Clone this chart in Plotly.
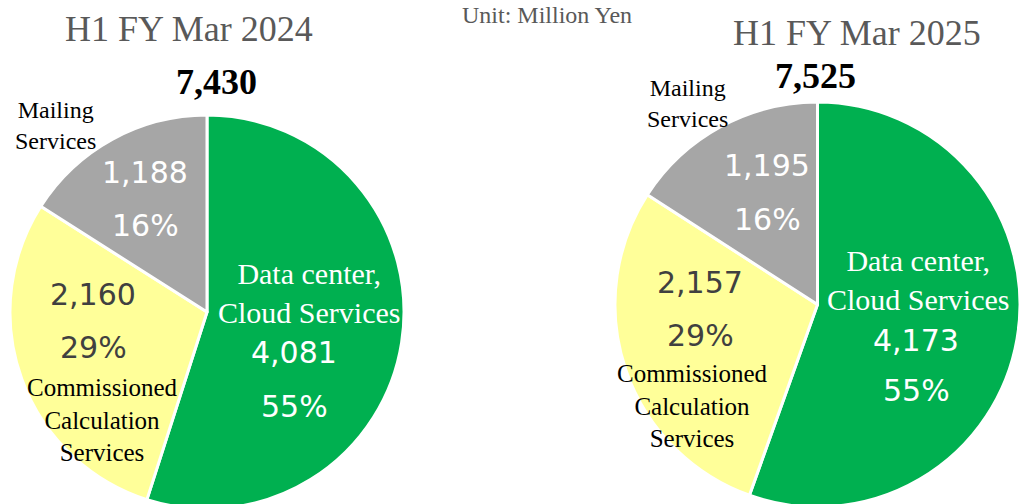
import plotly.graph_objects as go

# ---- data ----
categories = ["Data center,<br>Cloud Services", "Commissioned<br>Calculation<br>Services", "Mailing<br>Services"]
periods = ["H1 FY Mar 2024", "H1 FY Mar 2025"]
values_2024 = [4081, 2160, 1188]
values_2025 = [4173, 2157, 1195]
totals = [7430, 7525]
unit_label = "Unit: Million Yen"

colors = ["#00B050", "#FFFF99", "#A6A6A6"]
value_font_colors = ["white", "#404040", "white"]

W, H = 1023, 510

def px_dom(x0, x1, y0, y1):
    return dict(x=[x0 / W, x1 / W], y=[1 - y1 / H, 1 - y0 / H])

domains = [px_dom(10, 404, 115, 509), px_dom(615, 1020, 102, 507)]

fig = go.Figure()
for vals, dom in zip([values_2024, values_2025], domains):
    fig.add_trace(go.Pie(
        labels=[c.replace("<br>", " ") for c in categories],
        values=vals,
        sort=False,
        direction="clockwise",
        rotation=0,
        marker=dict(colors=colors, line=dict(color="white", width=3)),
        textinfo="none",
        showlegend=False,
        domain=dom,
    ))

def ax(px):
    return px / W

def ay(py):
    return 1 - py / H

ann = []
def add(text, x, y, size, color, family="Liberation Serif, Times New Roman, serif", bold=False):
    if bold:
        text = "<b>" + text + "</b>"
    ann.append(dict(text=text, x=ax(x), y=ay(y), xref="paper", yref="paper",
                    xanchor="center", yanchor="middle", showarrow=False,
                    font=dict(family=family, size=size, color=color)))

sans = "DejaVu Sans, Verdana, sans-serif"

# layout positions (pixel centres) for each pie's texts
layouts = [
    dict(title=(189, 29), total=(216, 82),
         vals=[(294, 352, 406), (93, 294, 347), (145, 172, 225)],
         labels=[(309, 293), (102, 420), (55, 125)]),
    dict(title=(857, 33), total=(815, 76),
         vals=[(916, 340, 390), (700, 282, 335), (767, 166, 219)],
         labels=[(918, 280), (692, 406), (687, 104)]),
]
label_colors = ["white", "black", "black"]
label_sizes = [30, 25, 24]

for i, (vals, lay) in enumerate(zip([values_2024, values_2025], layouts)):
    s = sum(vals)
    add(periods[i], *lay["title"], 36, "#595959")
    add(f"{totals[i]:,}", *lay["total"], 36, "black", bold=True)
    for j, v in enumerate(vals):
        x, yv, yp = lay["vals"][j]
        add(f"{v:,}", x, yv, 30, value_font_colors[j], family=sans)
        add(f"{round(v / s * 100)}%", x, yp, 30, value_font_colors[j], family=sans)
        lx, ly = lay["labels"][j]
        add(categories[j], lx, ly, label_sizes[j], label_colors[j])

add(unit_label, 547, 15, 24, "#595959")

fig.update_layout(
    width=W, height=H,
    margin=dict(l=0, r=0, t=0, b=0),
    paper_bgcolor="white", plot_bgcolor="white",
    annotations=ann,
)

fig.write_html("out.html", config={"displayModeBar": False},
               post_script="document.body.style.margin='0';document.body.style.overflow='hidden';")
